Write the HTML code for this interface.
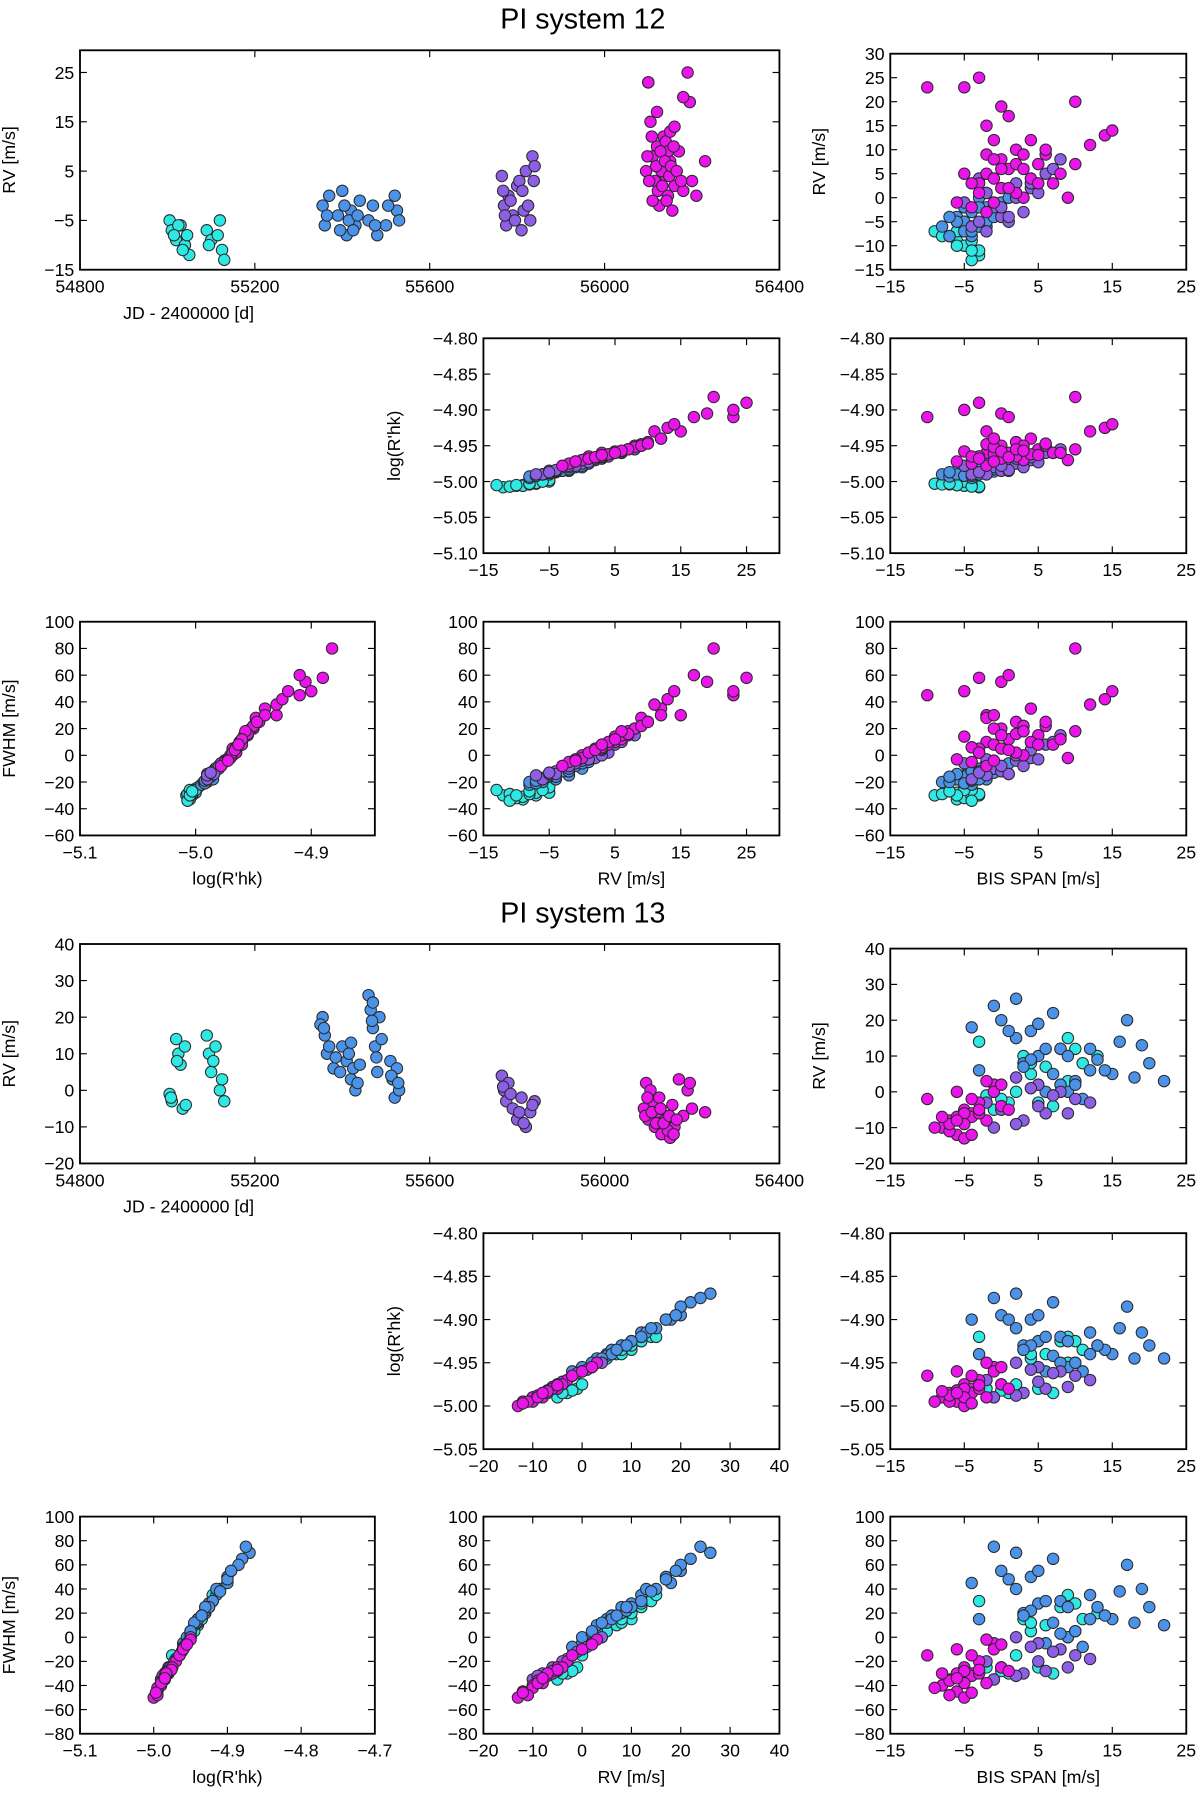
<!DOCTYPE html>
<html><head><meta charset="utf-8"><style>
html,body{margin:0;padding:0;background:#fff;}
svg{display:block;}
text{font-family:"Liberation Sans","DejaVu Sans",sans-serif;fill:#000;}
</style></head><body>
<svg id="fig" width="1200" height="1795" viewBox="0 0 1050 1570.6" preserveAspectRatio="none" xmlns="http://www.w3.org/2000/svg">
<text x="510" y="25" font-size="25" text-anchor="middle">PI system 12</text>
<text x="510" y="807" font-size="25" text-anchor="middle">PI system 13</text>
</svg>
<script>
// ---- System 12 data ----
const jd12 = [55005,55010,55020,55030,55040,55050,55045,55090,55100,55120,55125,55130,55025,
 55355,55360,55370,55390,55400,55410,55420,55430,55440,55460,55470,55480,55500,55520,55525,55530,
 55765,55770,55775,55780,55790,55800,55810,55815,55820,55830,55835,55840,55785,55805,
 56095,56100,56105,56110,56115,56120,56125,56130,56135,56140,56145,56150,56155,56160,56170,56180,56190,56195,56200,56210,56230,56100,56140,56150,56160,56180,56120,56110,56130,56145,
 55015,55035,55095,55115,
 55365,55395,55405,55415,55425,55435,55475,55505,
 55768,55772,55795,55812,55825,55838,
 56098,56102,56108,56118,56122,56128,56132,56138,56142,56148,56152,56158,56165,56175];
const rv12 = [-5,-7,-9,-6,-10,-12,-8,-7,-9,-5,-11,-13,-6,
 -2,-6,0,-4,1,-8,-3,-6,-1,-5,-2,-8,-6,0,-3,-5,
 4,-2,-6,0,-4,2,-7,-3,5,-5,8,6,-1,3,
 5,23,15,8,3,10,-2,6,12,4,0,7,-3,2,9,1,25,19,3,0,7,23,11,13,14,20,17,-1,5,9,
 -8,-11,-10,-8,
 -4,-7,-2,-5,-7,-4,-6,-2,
 1,-4,-5,1,-2,3,
 8,3,12,6,1,9,2,7,-1,4,6,10,5,3];
const rhk12 = [-5.000,-5.003,-5.005,-5.000,-5.006,-5.008,-5.004,-5.002,-5.006,-4.998,-5.007,-5.005,-5.000,
 -4.985,-4.990,-4.980,-4.985,-4.975,-4.995,-4.985,-4.990,-4.980,-4.988,-4.982,-4.993,-4.990,-4.978,-4.985,-4.990,
 -4.965,-4.980,-4.990,-4.975,-4.985,-4.970,-4.990,-4.980,-4.960,-4.985,-4.955,-4.960,-4.978,-4.968,
 -4.960,-4.910,-4.930,-4.950,-4.965,-4.945,-4.975,-4.960,-4.940,-4.962,-4.970,-4.955,-4.978,-4.968,-4.950,-4.965,-4.890,-4.905,-4.960,-4.970,-4.955,-4.900,-4.930,-4.925,-4.920,-4.882,-4.910,-4.972,-4.958,-4.948,
 -5.004,-5.007,-5.005,-5.003,
 -4.987,-4.992,-4.983,-4.988,-4.992,-4.986,-4.990,-4.983,
 -4.972,-4.984,-4.987,-4.973,-4.978,-4.966,
 -4.952,-4.965,-4.940,-4.958,-4.968,-4.950,-4.966,-4.955,-4.972,-4.962,-4.957,-4.947,-4.960,-4.963];
const fwhm12 = [-28,-30,-33,-25,-32,-30,-27,-28,-31,-24,-29,-26,-26,
 -15,-20,-10,-18,-5,-22,-12,-17,-8,-16,-10,-20,-18,-6,-12,-14,
 2,-10,-18,-4,-12,-2,-15,-8,8,-14,15,10,-6,0,
 10,45,30,20,5,25,-5,12,35,8,0,15,-8,5,22,2,58,55,8,-2,18,48,38,42,48,80,60,-3,14,28,
 -29,-34,-30,-27,
 -16,-21,-12,-15,-19,-13,-18,-10,
 -3,-14,-13,-3,-8,4,
 20,6,30,15,2,22,4,16,-4,10,18,25,12,8];
const bis12 = [-6,-9,-6,-4,-5,-3,-7,-6,-4,-5,-3,-4,-5,
 -5,-8,-3,-6,-2,-4,-1,-3,0,-5,-2,-7,-2,1,-4,-6,
 -3,-1,-4,2,0,4,-2,3,6,1,8,7,-5,2,
 -2,-10,-2,0,-3,2,-4,1,4,-1,3,5,-2,0,6,2,-3,0,7,9,10,-5,12,14,15,10,1,-6,-5,-2,
 -8,-4,-6,-7,
 -7,-5,-3,-2,-4,-1,-3,-1,
 -2,1,-3,5,0,4,
 -1,-4,-1,0,-3,3,1,2,-1,4,3,6,8,5];
const grp12 = [0,0,0,0,0,0,0,0,0,0,0,0,0,
 1,1,1,1,1,1,1,1,1,1,1,1,1,1,1,1,
 2,2,2,2,2,2,2,2,2,2,2,2,2,2,
 3,3,3,3,3,3,3,3,3,3,3,3,3,3,3,3,3,3,3,3,3,3,3,3,3,3,3,3,3,3,
 0,0,0,0,
 1,1,1,1,1,1,1,1,
 2,2,2,2,2,2,
 3,3,3,3,3,3,3,3,3,3,3,3,3,3];
// ---- System 13 data ----
const jd13 = [55005,55010,55020,55025,55030,55035,55040,55090,55095,55100,55110,55120,55130,
 55355,55360,55365,55380,55400,55410,55420,55430,55460,55465,55470,55475,55480,55485,55510,55515,55520,55525,55530,55350,55470,55420,
 55765,55770,55775,55780,55790,55800,55810,55820,55830,55840,
 56090,56095,56100,56110,56115,56120,56130,56140,56150,56155,56160,56170,56180,56200,56230,56105,56125,56145,
 55008,55022,55042,55105,55125,
 55358,55370,55385,55395,55415,55425,55435,55468,55478,55490,55512,55528,55440,
 55768,55785,55805,55815,55835,
 56093,56098,56108,56118,56128,56135,56148,56158,56165,56190,56195];
const rv13 = [-1,-3,14,10,7,-5,12,15,10,5,12,0,-3,
 20,15,10,6,12,8,3,0,26,22,17,12,5,20,8,3,-2,6,0,18,24,13,
 4,0,-3,2,-5,-8,-2,-10,-6,-3,
 -5,2,-8,-3,-10,-6,-12,-8,-13,-4,-10,3,-7,-5,-6,0,-2,-11,
 -2,8,-4,8,3,
 17,12,9,5,10,6,2,19,9,14,4,2,7,
 1,-1,-6,-9,-4,
 -7,-2,-6,-9,-5,-9,-7,-12,-8,0,2];
const rhk13 = [-4.980,-4.985,-4.920,-4.935,-4.940,-4.990,-4.925,-4.920,-4.930,-4.945,-4.925,-4.975,-4.980,
 -4.895,-4.910,-4.925,-4.940,-4.920,-4.930,-4.950,-4.960,-4.870,-4.880,-4.900,-4.915,-4.940,-4.885,-4.930,-4.945,-4.960,-4.935,-4.955,-4.900,-4.875,-4.915,
 -4.950,-4.960,-4.970,-4.955,-4.975,-4.985,-4.965,-4.990,-4.980,-4.970,
 -4.975,-4.955,-4.985,-4.970,-4.990,-4.980,-4.995,-4.990,-5.000,-4.975,-4.995,-4.950,-4.985,-4.980,-4.980,-4.960,-4.965,-4.995,
 -4.982,-4.940,-4.985,-4.935,-4.950,
 -4.900,-4.920,-4.930,-4.942,-4.925,-4.940,-4.950,-4.895,-4.930,-4.910,-4.945,-4.950,-4.935,
 -4.958,-4.962,-4.978,-4.988,-4.972,
 -4.982,-4.965,-4.980,-4.988,-4.976,-4.990,-4.983,-4.997,-4.985,-4.960,-4.955];
const fwhm13 = [-25,-30,30,15,10,-35,25,35,20,5,28,-15,-25,
 55,40,28,15,30,20,5,-5,70,65,50,35,15,60,25,10,-8,18,0,45,75,40,
 0,-10,-20,-5,-25,-30,-15,-35,-28,-18,
 -25,-5,-35,-20,-40,-30,-45,-38,-50,-25,-42,-2,-32,-28,-30,-10,-15,-48,
 -28,12,-30,15,0,
 48,30,22,12,25,15,3,55,25,38,12,5,18,
 -8,-12,-25,-32,-20,
 -30,-15,-28,-36,-27,-38,-30,-46,-34,-10,-6];
const bis13 = [-2,1,-3,3,6,-1,8,9,13,4,10,2,5,
 0,2,5,-3,8,3,10,6,2,7,4,12,15,17,20,22,11,14,9,-4,-1,19,
 2,8,-2,5,0,3,10,-1,6,12,
 -5,-1,-7,-3,-8,-4,-6,-2,-5,0,-9,-2,-4,1,-3,-6,-10,-7,
 0,4,7,11,9,
 1,6,4,7,9,12,8,5,13,16,18,10,3,
 4,7,9,2,5,
 -6,-4,-5,-7,-3,-5,-8,-4,-6,-1,0];
const grp13 = [0,0,0,0,0,0,0,0,0,0,0,0,0,
 1,1,1,1,1,1,1,1,1,1,1,1,1,1,1,1,1,1,1,1,1,1,
 2,2,2,2,2,2,2,2,2,2,
 3,3,3,3,3,3,3,3,3,3,3,3,3,3,3,3,3,3,
 0,0,0,0,0,
 1,1,1,1,1,1,1,1,1,1,1,1,1,
 2,2,2,2,2,
 3,3,3,3,3,3,3,3,3,3,3];
// ---- tick labels ----
const jdTicks = [54800,55200,55600,56000,56400];
const bisTicks = [-15,-5,5,15,25];
const rv12Ticks = [-15,-5,5,15,25];
const rv12TopTicks = [-15,-5,5,15,25];
const rv12RightTicks = [-15,-10,-5,0,5,10,15,20,25,30];
const rhk12Ticks = [-5.10,-5.05,-5.00,-4.95,-4.90,-4.85,-4.80];
const fwhm12Ticks = [-60,-40,-20,0,20,40,60,80,100];
const rhk12XTicks = [-5.1,-5.0,-4.9];
const rv13Ticks = [-20,-10,0,10,20,30,40];
const rhk13Ticks = [-5.05,-5.00,-4.95,-4.90,-4.85,-4.80];
const fwhm13Ticks = [-80,-60,-40,-20,0,20,40,60,80,100];
const rhk13XTicks = [-5.1,-5.0,-4.9,-4.8,-4.7];

const COLORS = ['#2ee8e4','#4b93e8','#8d5fe6','#eb14eb'];
const NS = 'http://www.w3.org/2000/svg';
const svg = document.getElementById('fig');
function mk(tag, attrs, parent){const e=document.createElementNS(NS,tag);for(const k in attrs)e.setAttribute(k,attrs[k]);(parent||svg).appendChild(e);return e;}
function fmt(v,dec){const s=Math.abs(v).toFixed(dec);return (v<0?'\u2212':'')+s;}

function panel(p){
  const g=mk('g',{});
  
  
  const sx=v=>p.x0+(v-p.xd[0])/(p.xd[1]-p.xd[0])*(p.x1-p.x0);
  const sy=v=>p.y1-(v-p.yd[0])/(p.yd[1]-p.yd[0])*(p.y1-p.y0);
  const pg=mk('g',{},g);
  
  
  const cp='clip-'+p.name;
  const cl=mk('clipPath',{id:cp},g);mk('rect',{x:p.x0,y:p.y0,width:p.x1-p.x0,height:p.y1-p.y0},cl);
  pg.setAttribute('clip-path','url(#'+cp+')');
  for(let gi=0;gi<4;gi++){
    for(let i=0;i<p.xs.length;i++){
      if(p.gr[i]!==gi)continue;
      const c=mk('circle',{cx:sx(p.xs[i]),cy:sy(p.ys[i]),r:5,fill:COLORS[gi],stroke:'#2a2a2a','stroke-width':0.9},pg);
      
      
    }
  }
  const fr=mk('rect',{x:p.x0,y:p.y0,width:p.x1-p.x0,height:p.y1-p.y0,fill:'none',stroke:'#000','stroke-width':1.6},g);
  
  
  p.xt.forEach(v=>{
    const x=sx(v);
    mk('line',{x1:x,x2:x,y1:p.y1,y2:p.y1-6,stroke:'#000','stroke-width':1},g);
    mk('line',{x1:x,x2:x,y1:p.y0,y2:p.y0+6,stroke:'#000','stroke-width':1},g);
    const t=mk('text',{x:x,y:p.y1+20,'font-size':15.5,'text-anchor':'middle'},g);
    t.textContent=fmt(v,p.xdec);
    
    
  });
  p.yt.forEach(v=>{
    const y=sy(v);
    mk('line',{x1:p.x0,x2:p.x0+6,y1:y,y2:y,stroke:'#000','stroke-width':1},g);
    mk('line',{x1:p.x1,x2:p.x1-6,y1:y,y2:y,stroke:'#000','stroke-width':1},g);
    const t=mk('text',{x:p.x0-5,y:y+5.5,'font-size':15.5,'text-anchor':'end'},g);
    t.textContent=fmt(v,p.ydec);
    
    
  });
  if(p.yl){
    const yx=p.ylx, yy=(p.y0+p.y1)/2;
    const t=mk('text',{x:yx,y:yy,'font-size':15.5,'text-anchor':'middle',transform:'rotate(-90 '+yx+' '+yy+')'},g);
    t.textContent=p.yl;
    
    
  }
  if(p.xl){
    const t=mk('text',{x:p.xlx!==undefined?p.xlx:(p.x0+p.x1)/2,y:p.y1+43,'font-size':15.5,'text-anchor':'middle'},g);
    t.textContent=p.xl;
    
    
  }
}
const L=[70,682], M=[423,682], R=[779,1038], BL=[70,328];
function build(sysName, d, r1, r2, r3, cfg){
  panel({name:sysName+'-rv-vs-time',x0:L[0],x1:L[1],y0:r1[0],y1:r1[1],xd:[54800,56400],yd:cfg.rvTopD,xt:jdTicks,yt:cfg.rvTopT,xdec:0,ydec:0,xs:d.jd,ys:d.rv,gr:d.g,yl:'RV [m/s]',ylx:13,xl:'JD - 2400000 [d]',xlx:165});
  panel({name:sysName+'-rv-vs-bis',x0:R[0],x1:R[1],y0:cfg.r1rTop,y1:r1[1],xd:[-15,25],yd:cfg.rvRightD,xt:bisTicks,yt:cfg.rvRightT,xdec:0,ydec:0,xs:d.bis,ys:d.rv,gr:d.g,yl:'RV [m/s]',ylx:722});
  panel({name:sysName+'-rhk-vs-rv',x0:M[0],x1:M[1],y0:r2[0],y1:r2[1],xd:cfg.rvD,yd:cfg.rhkD,xt:cfg.rvT,yt:cfg.rhkT,xdec:0,ydec:2,xs:d.rv,ys:d.rhk,gr:d.g,yl:"log(R'hk)",ylx:350});
  panel({name:sysName+'-rhk-vs-bis',x0:R[0],x1:R[1],y0:r2[0],y1:r2[1],xd:[-15,25],yd:cfg.rhkD,xt:bisTicks,yt:cfg.rhkT,xdec:0,ydec:2,xs:d.bis,ys:d.rhk,gr:d.g});
  panel({name:sysName+'-fwhm-vs-rhk',x0:BL[0],x1:BL[1],y0:r3[0],y1:r3[1],xd:cfg.rhkXD,yd:cfg.fwhmD,xt:cfg.rhkXT,yt:cfg.fwhmT,xdec:1,ydec:0,xs:d.rhk,ys:d.fwhm,gr:d.g,yl:'FWHM [m/s]',ylx:13,xl:"log(R'hk)"});
  panel({name:sysName+'-fwhm-vs-rv',x0:M[0],x1:M[1],y0:r3[0],y1:r3[1],xd:cfg.rvD,yd:cfg.fwhmD,xt:cfg.rvT,yt:cfg.fwhmT,xdec:0,ydec:0,xs:d.rv,ys:d.fwhm,gr:d.g,xl:'RV [m/s]'});
  panel({name:sysName+'-fwhm-vs-bis',x0:R[0],x1:R[1],y0:r3[0],y1:r3[1],xd:[-15,25],yd:cfg.fwhmD,xt:bisTicks,yt:cfg.fwhmT,xdec:0,ydec:0,xs:d.bis,ys:d.fwhm,gr:d.g,xl:'BIS SPAN [m/s]'});
}
build('sys12',{jd:jd12,rv:rv12,rhk:rhk12,fwhm:fwhm12,bis:bis12,g:grp12},[44,236],[296,484],[544,731],
 {rvTopD:[-15,29.5],rvTopT:rv12TopTicks,r1rTop:47,rvRightD:[-15,30],rvRightT:rv12RightTicks,
  rvD:[-15,30],rvT:rv12Ticks,rhkD:[-5.10,-4.80],rhkT:rhk12Ticks,rhkXD:[-5.1,-4.845],rhkXT:rhk12XTicks,fwhmD:[-60,100],fwhmT:fwhm12Ticks});
build('sys13',{jd:jd13,rv:rv13,rhk:rhk13,fwhm:fwhm13,bis:bis13,g:grp13},[826,1018],[1079,1268],[1327,1517],
 {rvTopD:[-20,40],rvTopT:rv13Ticks,r1rTop:830,rvRightD:[-20,40],rvRightT:rv13Ticks,
  rvD:[-20,40],rvT:rv13Ticks,rhkD:[-5.05,-4.80],rhkT:rhk13Ticks,rhkXD:[-5.1,-4.7],rhkXT:rhk13XTicks,fwhmD:[-80,100],fwhmT:fwhm13Ticks});
</script>
</body></html>
